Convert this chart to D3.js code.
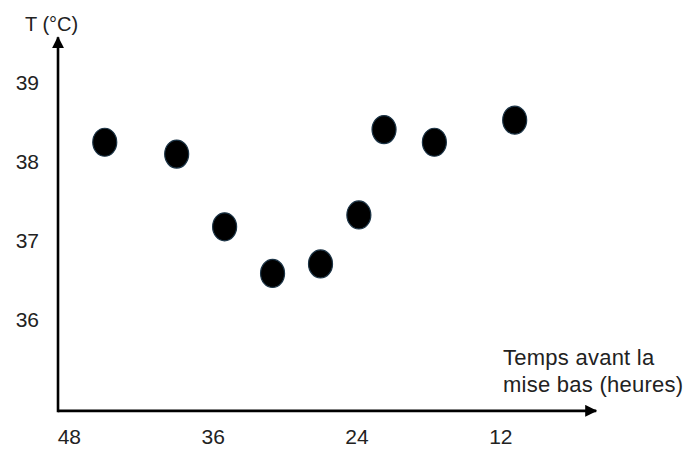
<!DOCTYPE html>
<html>
<head>
<meta charset="utf-8">
<script src="https://cdn.jsdelivr.net/npm/d3@7"></script>
<style>
  html, body { margin: 0; padding: 0; background: #fff; }
  svg { display: block; }
  text { font-family: "Liberation Sans", Arial, sans-serif; fill: #222; }
</style>
</head>
<body>
<svg id="chart" width="688" height="450"></svg>
<script>
// Data (hours before birth, temperature °C)
const hours = [45, 39, 35, 31, 27, 23.8, 21.7, 17.5, 10.8];
const temps = [38.25, 38.10, 37.18, 36.59, 36.71, 37.33, 38.41, 38.25, 38.53];
const xTicks = [48, 36, 24, 12];
const yTicks = [39, 38, 37, 36];
const yTitle = "T (°C)";
const xTitleLines = ["Temps avant la", "mise bas (heures)"];

const svg = d3.select("#chart");
const x = d3.scaleLinear().domain([48, 12]).range([68.8, 500.3]);
const y = d3.scaleLinear().domain([39, 36]).range([83, 320]);

const axisX0 = x(48.9);   // vertical axis position
const axisY0 = y(34.85);  // horizontal axis position
const xEnd = x(4.0);
const yEnd = y(39.58);

// arrow marker
svg.append("defs").append("marker")
  .attr("id", "arrow")
  .attr("viewBox", "0 0 12 12")
  .attr("refX", 11).attr("refY", 6)
  .attr("markerWidth", 12).attr("markerHeight", 12)
  .attr("markerUnits", "userSpaceOnUse")
  .attr("orient", "auto")
  .append("path").attr("d", "M0,0 L12,6 L0,12 Z").attr("fill", "#000");

// Axis lines with arrows
svg.append("line")
  .attr("x1", axisX0).attr("y1", axisY0)
  .attr("x2", xEnd).attr("y2", axisY0)
  .attr("stroke", "#000").attr("stroke-width", 2.6)
  .attr("marker-end", "url(#arrow)");
svg.append("line")
  .attr("x1", axisX0).attr("y1", axisY0 + 1.3)
  .attr("x2", axisX0).attr("y2", yEnd)
  .attr("stroke", "#000").attr("stroke-width", 2.6)
  .attr("marker-end", "url(#arrow)");

// Y tick labels
const gy = svg.append("g")
  .attr("transform", `translate(${axisX0},0)`)
  .call(d3.axisLeft(y).tickValues(yTicks).tickSize(0).tickPadding(19).tickFormat(d3.format("d")));
gy.select(".domain").remove();
gy.selectAll("text").style("font-size", "21px").style("font-family", "Liberation Sans, Arial, sans-serif").attr("fill", "#222");

// X tick labels
const gx = svg.append("g")
  .attr("transform", `translate(0,${axisY0})`)
  .call(d3.axisBottom(x).tickValues(xTicks).tickSize(0).tickPadding(18).tickFormat(d3.format("d")));
gx.select(".domain").remove();
gx.selectAll("text").style("font-size", "21px").style("font-family", "Liberation Sans, Arial, sans-serif").attr("fill", "#222");

// Titles
svg.append("text")
  .attr("x", 25).attr("y", 31)
  .style("font-size", "20px")
  .text(yTitle);

svg.append("text")
  .attr("x", 503).attr("y", 365)
  .style("font-size", "22px")
  .style("letter-spacing", "0.25px")
  .selectAll("tspan").data(xTitleLines).join("tspan")
  .attr("x", 503)
  .attr("dy", (d, i) => i === 0 ? 0 : 27)
  .text(d => d);

// Points
const data = hours.map((h, i) => ({ h, t: temps[i] }));
svg.append("g").selectAll("ellipse").data(data).join("ellipse")
  .attr("cx", d => x(d.h))
  .attr("cy", d => y(d.t))
  .attr("rx", 12)
  .attr("ry", 14)
  .attr("fill", "#000")
  .attr("stroke", "#1c3446")
  .attr("stroke-width", 1.2);
</script>
</body>
</html>
